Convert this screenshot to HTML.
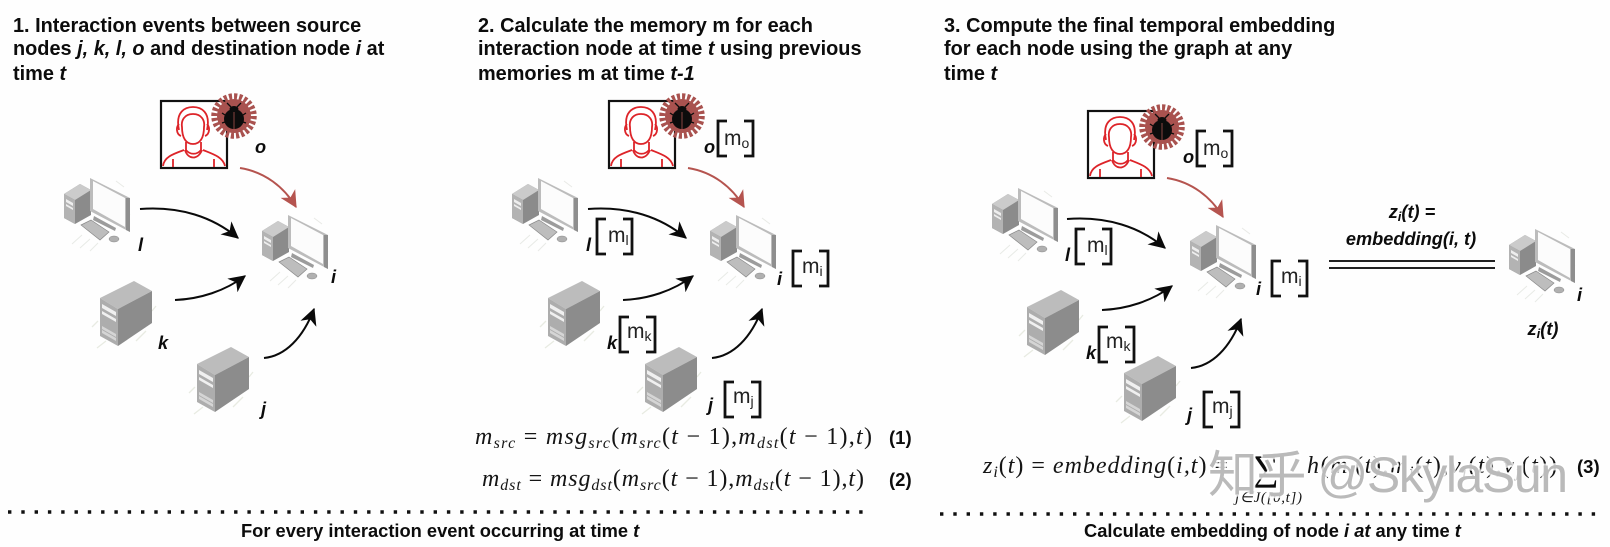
<!DOCTYPE html>
<html><head><meta charset="utf-8"><style>
html,body{margin:0;padding:0;background:#fff}
svg{display:block;filter:blur(.35px)}
text{font-family:"Liberation Sans",sans-serif;fill:#0c0c0c}
.h{font-size:19.9px;font-weight:700}
.n{font-size:18.2px;font-weight:700;font-style:italic}
.m{font-size:21px;font-weight:400;fill:#222}
.s{font-size:14px}
.eq{font-family:"Liberation Serif",serif;font-size:24px;font-style:italic;fill:#151515}
.eqn{font-size:18.5px;font-weight:700}
.cap{font-size:18.3px;font-weight:700}
.wm{font-family:"Liberation Sans","Noto Sans CJK SC",sans-serif;font-size:50px;fill:#bababa;stroke:#fff;stroke-width:4;stroke-opacity:.8;paint-order:stroke}
</style></head><body>
<svg width="1610" height="547" viewBox="0 0 1610 547" xmlns="http://www.w3.org/2000/svg">
<defs>
<marker id="ab" viewBox="0 0 14 14" refX="13" refY="7" markerWidth="17" markerHeight="17" markerUnits="userSpaceOnUse" orient="auto"><path d="M0 0L14 7L0 14L4 7Z" fill="#0a0a0a"/></marker>
<marker id="ar" viewBox="0 0 14 14" refX="13" refY="7" markerWidth="17" markerHeight="17" markerUnits="userSpaceOnUse" orient="auto"><path d="M0 0L14 7L0 14L4 7Z" fill="#b5544f"/></marker>
<g id="pc">
<g stroke="#e8eae6" stroke-width="1"><path d="M18 58L8 67M26 62L16 71M34 66L26 74M60 10L52 4M66 38L58 30"/></g>
<path d="M0 17L16 7L27 13V38L11 47L0 41Z" fill="#8b8b8b"/>
<path d="M0 17L16 7L27 13L11 23Z" fill="#cbcbcb"/>
<path d="M0 17L11 23V47L0 41Z" fill="#b3b3b3"/>
<path d="M2 22L9 26V29L2 25ZM2 27L9 31V33L2 29Z" fill="#eee"/>
<path d="M26 1L66 21V55L26 34Z" fill="#bcbcbc"/>
<path d="M29 4L61 21V50L29 32Z" fill="#fcfcfc"/>
<path d="M62 21L66 21V55L62 53Z" fill="#8e8e8e"/>
<path d="M30 39L52 51L51 54L29 43Z" fill="#9c9c9c"/>
<path d="M17 48L27 43L45 55L36 63Z" fill="#bdbdbd" stroke="#8a8a8a" stroke-width=".7"/>
<ellipse cx="50" cy="62" rx="5" ry="3" fill="#b0b0b0" stroke="#888" stroke-width=".5"/>
</g>
<g id="srv">
<path d="M6 60L-3 67M46 50L36 60M-2 40L-8 46M52 30L56 25" stroke="#e8ebe2" stroke-width="1.3"/>
<path d="M0 17L34 0L52 10L18 28Z" fill="#bcbcbc"/>
<path d="M18 28L52 10V42L18 65Z" fill="#8c8c8c"/>
<path d="M0 17L18 28V65L0 55Z" fill="#adadad"/>
<path d="M2 23L16 31V35L2 27ZM2 30L16 38V41L2 33Z" fill="#f0f0f0"/>
<path d="M2 45L16 53V56L2 48ZM2 49L16 57V60L2 52Z" fill="#d5d5d5"/>
</g>
<g id="usr">
<rect x="1" y="1" width="66" height="67" fill="#fff" stroke="#111" stroke-width="2.2"/>
<g fill="none" stroke="#dd2429" stroke-width="1.8">
<path d="M22 27C21 21 24 14 33 14C42 14 45 21 44 27C44 38 40 44 33 44C26 44 22 38 22 27Z"/>
<path d="M19 30C15 12 25 7 33 7C41 7 51 12 47 30"/>
<path d="M19 24C16 27 16 34 21 36M47 24C50 27 50 34 45 36"/>
<path d="M26 42V50C30 55 37 55 41 50V42"/>
<path d="M25 50C28 60 38 60 42 50"/>
<path d="M3 66C4 57 13 54 24 50M65 66C63 57 53 54 43 50"/>
<path d="M13 59V67M54 59V67"/>
</g>
</g>
<g id="bug">
<circle r="17" fill="#a9524f"/>
<circle r="19" fill="none" stroke="#a9524f" stroke-width="7.5" stroke-dasharray="3 1.97"/>
<ellipse cx="0" cy="3" rx="10" ry="10" fill="#0c0c0c"/>
<ellipse cx="0" cy="-7" rx="4.5" ry="3" fill="#0c0c0c"/>
<path d="M-3-9L-7-13M3-9L7-13M-9-1L-12-3M9-1L12-3M-9 6L-12 7M9 6L12 7" stroke="#0c0c0c" stroke-width="1.3" fill="none"/>
<path d="M0-4V13" stroke="#a9524f" stroke-width=".8"/>
</g>
<g id="arrows" fill="none" stroke-width="2">
<path d="M240 168C265 172 284 187 296 207" stroke="#b5544f" marker-end="url(#ar)"/>
<path d="M140 209C180 206 213 217 238 238" stroke="#0a0a0a" marker-end="url(#ab)"/>
<path d="M175 300C200 299 225 291 245 276" stroke="#0a0a0a" marker-end="url(#ab)"/>
<path d="M264 358C285 356 303 338 314 309" stroke="#0a0a0a" marker-end="url(#ab)"/>
</g>
<g id="nodes">
<use href="#usr" x="160" y="100"/><use href="#bug" x="234" y="116"/>
<use href="#pc" x="64" y="177"/><use href="#pc" x="262" y="214"/>
<use href="#srv" x="100" y="281"/><use href="#srv" x="197" y="347"/>
<use href="#arrows"/>
</g>
<path id="br" d="M10 1H1V36H10M27 1H36V36H27" fill="none" stroke="#111" stroke-width="2.8"/>
<g id="mem">
<use href="#br" x="717" y="120"/><text class="m" x="724" y="145">m<tspan class="s" dy="3">o</tspan></text>
<use href="#br" x="596" y="218"/><text class="m" x="608" y="242">m<tspan class="s" dy="3">l</tspan></text>
<use href="#br" x="792" y="250"/><text class="m" x="802" y="273">m<tspan class="s" dy="3">i</tspan></text>
<use href="#br" x="619" y="316"/><text class="m" x="627" y="338">m<tspan class="s" dy="3">k</tspan></text>
<use href="#br" x="724" y="381"/><text class="m" x="733" y="403">m<tspan class="s" dy="3">j</tspan></text>
<text class="n" x="704" y="153">o</text>
<text class="n" x="586" y="251">l</text>
<text class="n" x="777" y="285">i</text>
<text class="n" x="607" y="349">k</text>
<text class="n" x="708" y="411">j</text>
</g>
</defs>
<rect width="1610" height="547" fill="#fefefe"/>

<!-- Panel 1 -->
<text class="h" x="13" y="32">1. Interaction events between source</text>
<text class="h" x="13" y="55">nodes <tspan font-style="italic">j, k, l, o</tspan> and destination node <tspan font-style="italic">i</tspan> at</text>
<text class="h" x="13" y="80">time <tspan font-style="italic">t</tspan></text>
<use href="#nodes"/>
<text class="n" x="255" y="153">o</text>
<text class="n" x="138" y="251">l</text>
<text class="n" x="331" y="283">i</text>
<text class="n" x="158" y="349">k</text>
<text class="n" x="261" y="415">j</text>

<!-- Panel 2 -->
<text class="h" x="478" y="32">2. Calculate the memory m for each</text>
<text class="h" x="478" y="55">interaction node at time <tspan font-style="italic">t</tspan> using previous</text>
<text class="h" x="478" y="80">memories m at time <tspan font-style="italic">t-1</tspan></text>
<use href="#nodes" x="448"/>
<use href="#mem"/>
<text class="eq" x="475" y="444" textLength="397">m<tspan font-size="16" dy="4">src</tspan><tspan dy="-4" font-style="normal"> = </tspan>msg<tspan font-size="16" dy="4">src</tspan><tspan dy="-4" font-style="normal">(</tspan>m<tspan font-size="16" dy="4">src</tspan><tspan dy="-4" font-style="normal">(</tspan>t<tspan font-style="normal"> − 1),</tspan>m<tspan font-size="16" dy="4">dst</tspan><tspan dy="-4" font-style="normal">(</tspan>t<tspan font-style="normal"> − 1),</tspan>t<tspan font-style="normal">)</tspan></text>
<text class="eq" x="482" y="486" textLength="382">m<tspan font-size="16" dy="4">dst</tspan><tspan dy="-4" font-style="normal"> = </tspan>msg<tspan font-size="16" dy="4">dst</tspan><tspan dy="-4" font-style="normal">(</tspan>m<tspan font-size="16" dy="4">src</tspan><tspan dy="-4" font-style="normal">(</tspan>t<tspan font-style="normal"> − 1),</tspan>m<tspan font-size="16" dy="4">dst</tspan><tspan dy="-4" font-style="normal">(</tspan>t<tspan font-style="normal"> − 1),</tspan>t<tspan font-style="normal">)</tspan></text>
<text class="eqn" x="889" y="444">(1)</text>
<text class="eqn" x="889" y="486">(2)</text>
<line x1="8" y1="512" x2="866" y2="512" stroke="#111" stroke-width="3.4" stroke-dasharray="3.4 9.9"/>
<text class="cap" x="241" y="537">For every interaction event occurring at time <tspan font-style="italic">t</tspan></text>

<!-- Panel 3 -->
<text class="h" x="944" y="32">3. Compute the final temporal embedding</text>
<text class="h" x="944" y="55">for each node using the graph at any</text>
<text class="h" x="944" y="80">time <tspan font-style="italic">t</tspan></text>
<use href="#usr" x="1087" y="110"/><use href="#bug" x="1162" y="127"/>
<use href="#pc" x="992" y="187"/><use href="#pc" x="1190" y="224"/>
<use href="#srv" x="1027" y="290"/><use href="#srv" x="1124" y="356"/>
<use href="#arrows" x="927" y="10"/>
<use href="#mem" x="479" y="10"/>
<text class="n" x="1412" y="218" text-anchor="middle">z<tspan font-size="13" dy="3">i</tspan><tspan dy="-3">(t) =</tspan></text>
<text class="n" x="1411" y="245" text-anchor="middle">embedding(i, t)</text>
<line x1="1329" y1="261" x2="1495" y2="261" stroke="#222" stroke-width="2"/>
<line x1="1329" y1="268" x2="1495" y2="268" stroke="#222" stroke-width="2"/>
<use href="#pc" x="1509" y="228"/>
<text class="n" x="1577" y="301">i</text>
<text class="n" x="1543" y="335" text-anchor="middle">z<tspan font-size="13" dy="3">i</tspan><tspan dy="-3">(t)</tspan></text>
<text class="eq" x="983" y="473" textLength="245">z<tspan font-size="16" dy="4">i</tspan><tspan dy="-4" font-style="normal">(</tspan>t<tspan font-style="normal">) = </tspan>embedding<tspan font-style="normal">(</tspan>i,t<tspan font-style="normal">) =</tspan></text>
<text x="1253" y="480" style="font-family:'Liberation Serif',serif;font-size:36px">∑</text>
<text class="eq" x="1235" y="502" style="font-size:15px" textLength="67">j∈J([0,t])</text>
<text class="eq" x="1307" y="473" textLength="250">h<tspan font-style="normal">(</tspan>m<tspan font-size="16" dy="4">i</tspan><tspan dy="-4" font-style="normal">(</tspan>t<tspan font-style="normal">),</tspan>m<tspan font-size="16" dy="4">j</tspan><tspan dy="-4" font-style="normal">(</tspan>t<tspan font-style="normal">),</tspan>v<tspan font-size="16" dy="4">i</tspan><tspan dy="-4" font-style="normal">(</tspan>t<tspan font-style="normal">),</tspan>v<tspan font-size="16" dy="4">j</tspan><tspan dy="-4" font-style="normal">(</tspan>t<tspan font-style="normal">))</tspan></text>
<text class="wm" x="1208" y="492" textLength="360">知乎 @SkylaSun</text>
<text class="eqn" x="1577" y="473">(3)</text>
<line x1="940" y1="514" x2="1597" y2="514" stroke="#111" stroke-width="3.4" stroke-dasharray="3.4 9.9"/>
<text class="cap" x="1084" y="537">Calculate embedding of node <tspan font-style="italic">i at</tspan> any time <tspan font-style="italic">t</tspan></text>
</svg>
</body></html>
